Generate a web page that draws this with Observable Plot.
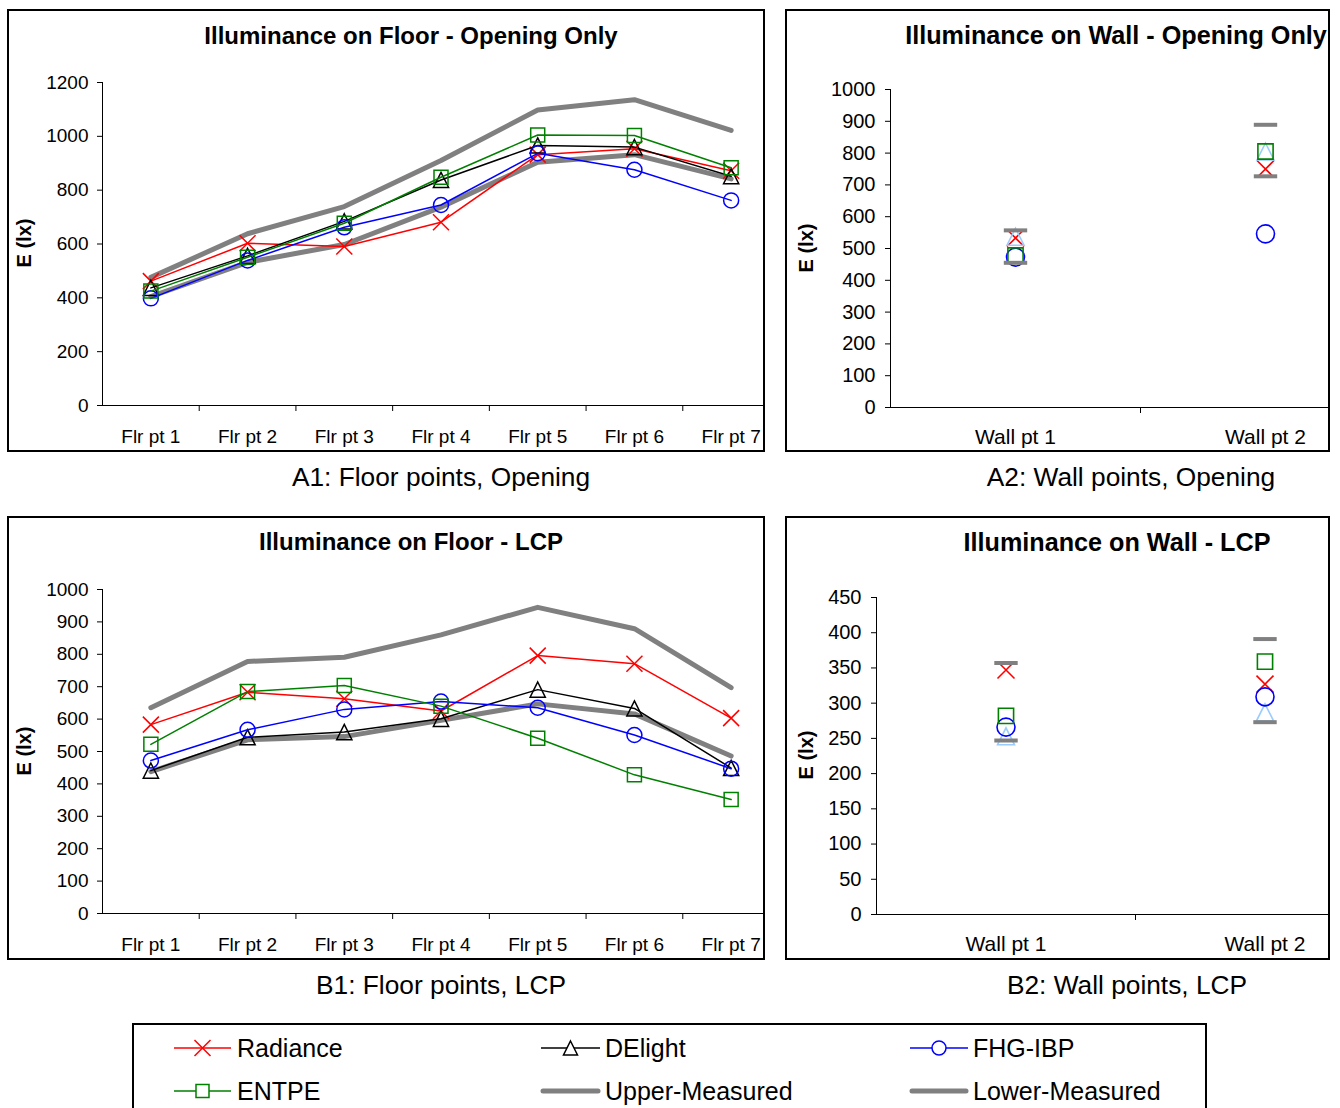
<!DOCTYPE html>
<html><head><meta charset="utf-8">
<script src="https://cdn.jsdelivr.net/npm/d3@7"></script>
<script src="https://cdn.jsdelivr.net/npm/@observablehq/plot@0.6"></script>
<style>
body{margin:0;background:#fff;font-family:"Liberation Sans",Arial,sans-serif;color:#000;}
#page{position:relative;width:1340px;height:1108px;overflow:hidden;background:#fff;}
.frame{position:absolute;border:2px solid #000;box-sizing:border-box;overflow:hidden;background:#fff;}
.frame svg{position:absolute;left:-2px;top:-2px;overflow:visible;max-width:none !important;height:auto;}
.title{position:absolute;font-weight:bold;font-size:24px;white-space:nowrap;transform:translate(-50%,-50%);}
.ylab{position:absolute;font-weight:bold;font-size:20px;white-space:nowrap;transform:translate(-50%,-50%) rotate(-90deg);}
.caption{position:absolute;font-size:26.3px;white-space:nowrap;transform:translate(-50%,-50%);}
.legtext{position:absolute;font-size:25px;white-space:nowrap;transform:translateY(-50%);}
</style></head>
<body><div id="page"></div>
<script>
// ---------------- DATA ----------------
const floorCats = ["Flr pt 1","Flr pt 2","Flr pt 3","Flr pt 4","Flr pt 5","Flr pt 6","Flr pt 7"];
const wallCats = ["Wall pt 1","Wall pt 2"];
const seriesNames = ["Radiance","DElight","FHG-IBP","ENTPE","Upper-Measured","Lower-Measured"];

// A1: Floor points, Opening
const radianceA1 = [462, 603, 591, 681, 932, 954, 872];
const delightA1  = [437, 556, 684, 838, 966, 960, 852];
const fhgA1      = [398, 539, 662, 745, 937, 876, 762];
const entpeA1    = [425, 551, 677, 848, 1005, 1003, 883];
const upperA1    = [476, 638, 739, 910, 1098, 1136, 1022];
const lowerA1    = [405, 532, 598, 737, 904, 932, 842];

// A2: Wall points, Opening
const radianceA2 = [533, 750];
const delightA2  = [537, 805];
const fhgA2      = [473, 546];
const entpeA2    = [478, 805];
const upperA2    = [557, 889];
const lowerA2    = [455, 727];

// B1: Floor points, LCP
const radianceB1 = [583, 683, 663, 625, 796, 771, 603];
const delightB1  = [441, 544, 560, 601, 691, 633, 449];
const fhgB1      = [472, 567, 630, 654, 635, 551, 447];
const entpeB1    = [522, 685, 704, 640, 541, 428, 352];
const upperB1    = [635, 778, 791, 860, 945, 879, 697];
const lowerB1    = [438, 536, 546, 596, 647, 616, 486];

// B2: Wall points, LCP
const radianceB2 = [347, 327];
const delightB2  = [253, 287];
const fhgB2      = [266, 309];
const entpeB2    = [282, 359];
const upperB2    = [357, 391];
const lowerB2    = [247, 273];

// ---------------- SYMBOLS ----------------
const rad = s => Math.sqrt(s / Math.PI);
const symX = {draw(c, s){const r = rad(s); c.moveTo(-r,-r); c.lineTo(r,r); c.moveTo(r,-r); c.lineTo(-r,r);}};
const symTri = {draw(c, s){const r = rad(s); c.moveTo(0,-r); c.lineTo(r,r); c.lineTo(-r,r); c.closePath();}};
const symSq = {draw(c, s){const r = rad(s); c.rect(-r,-r,2*r,2*r);}};
const symCirc = {draw(c, s){const r = rad(s); c.moveTo(r,0); c.arc(0,0,r,0,2*Math.PI);}};
const symDash = {draw(c, s){const r = rad(s); c.moveTo(-r,0); c.lineTo(r,0);}};

const page = document.getElementById("page");
const FONT = "Liberation Sans, Arial, sans-serif";

function addDiv(cls, text, x, y, size){
  const d = document.createElement("div");
  d.className = cls; d.textContent = text;
  d.style.left = x + "px"; d.style.top = y + "px";
  if (size) d.style.fontSize = size + "px";
  page.appendChild(d); return d;
}

function chart(cfg){
  const {frame, plot, cats, yMax, yStep, series, wall} = cfg;
  const n = cats.length;
  const xDomain = [0.5, n + 0.5];
  const fr = document.createElement("div");
  fr.className = "frame";
  Object.assign(fr.style, {left: frame.x+"px", top: frame.y+"px", width: frame.w+"px", height: frame.h+"px"});
  page.appendChild(fr);

  const yFont = wall ? 20 : 19;
  const xFont = wall ? 21 : 19;
  const marks = [];
  marks.push(Plot.ruleY([0], {stroke: "#000", strokeWidth: 1}));
  marks.push(Plot.ruleX([xDomain[0]], {stroke: "#000", strokeWidth: 1}));
  marks.push(Plot.axisY({ticks: d3.range(0, yMax + yStep/2, yStep), tickFormat: d => String(d), tickSize: 5, tickPadding: wall ? 10 : 9, fontSize: yFont, label: null, stroke: "#000"}));
  marks.push(Plot.axisX({ticks: d3.range(1, n + 1), tickFormat: i => cats[i-1], tickSize: 0, tickPadding: wall ? 22 : 24, fontSize: xFont, label: null}));
  marks.push(Plot.axisX({ticks: d3.range(1.5, n, 1), tickFormat: () => "", tickSize: 6, label: null, stroke: "#000"}));

  const rowsOf = s => s.values.map((v, i) => ({series: s.name, x: i + 1, y: v}));
  if (!wall) {
    series.filter(s => s.measured).forEach(s => {
      marks.push(Plot.line(rowsOf(s), {x: "x", y: "y", stroke: s.color, strokeWidth: 5, strokeLinejoin: "round", strokeLinecap: "round"}));
    });
    series.filter(s => !s.measured).forEach(s => {
      const rows = rowsOf(s);
      marks.push(Plot.line(rows, {x: "x", y: "y", stroke: s.color, strokeWidth: 1.5}));
      marks.push(Plot.dot(rows, {x: "x", y: "y", symbol: s.symbol, r: s.r, stroke: s.color, strokeWidth: 1.5, fill: "none"}));
    });
  } else {
    series.forEach(s => {
      const rows = rowsOf(s);
      marks.push(Plot.dot(rows, {x: "x", y: "y", symbol: s.symbol, r: s.r, stroke: s.color, strokeWidth: s.measured ? 4 : 1.6, fill: "none"}));
    });
  }

  const width = plot.right - frame.x + 5;
  const svg = Plot.plot({
    width, height: frame.h,
    marginLeft: plot.left - frame.x,
    marginRight: 5,
    marginTop: plot.top - frame.y,
    marginBottom: frame.y + frame.h - plot.bottom,
    x: {domain: xDomain},
    y: {domain: [0, yMax]},
    style: {fontFamily: FONT, fontSize: "19px", color: "#000", background: "transparent", overflow: "visible", maxWidth: "none"},
    marks
  });
  svg.style.maxWidth = "none";
  svg.style.width = width + "px";
  svg.style.height = frame.h + "px";
  fr.appendChild(svg);

  addDiv("title", cfg.title, cfg.titlePos[0], cfg.titlePos[1], wall ? 25.2 : 24);
  addDiv("ylab", "E (lx)", cfg.ylabPos[0], cfg.ylabPos[1]);
  addDiv("caption", cfg.caption, cfg.captionPos[0], cfg.captionPos[1]);
}

function floorSeries(r, d, f, e, u, l){
  return [
    {name: "Upper-Measured", values: u, color: "#808080", measured: true},
    {name: "Lower-Measured", values: l, color: "#808080", measured: true},
    {name: "Radiance", values: r, color: "#FF0000", symbol: symX, r: 8},
    {name: "DElight", values: d, color: "#000000", symbol: symTri, r: 7.6},
    {name: "FHG-IBP", values: f, color: "#0000FF", symbol: symCirc, r: 7.5},
    {name: "ENTPE", values: e, color: "#008000", symbol: symSq, r: 7}
  ];
}
function wallSeries(r, d, f, e, u, l){
  return [
    {name: "Radiance", values: r, color: "#FF0000", symbol: symX, r: 8.5},
    {name: "DElight", values: d, color: "#99CCFF", symbol: symTri, r: 8.5},
    {name: "FHG-IBP", values: f, color: "#0000FF", symbol: symCirc, r: 9},
    {name: "ENTPE", values: e, color: "#008000", symbol: symSq, r: 7.6},
    {name: "Upper-Measured", values: u, color: "#808080", symbol: symDash, r: 11.7, measured: true},
    {name: "Lower-Measured", values: l, color: "#808080", symbol: symDash, r: 11.7, measured: true}
  ];
}

chart({frame: {x: 7, y: 9, w: 758, h: 443}, plot: {left: 102, right: 779, top: 82, bottom: 405},
  cats: floorCats, yMax: 1200, yStep: 200, series: floorSeries(radianceA1, delightA1, fhgA1, entpeA1, upperA1, lowerA1),
  title: "Illuminance on Floor - Opening Only", titlePos: [411, 36], ylabPos: [24, 243],
  caption: "A1: Floor points, Opening", captionPos: [441, 477]});

chart({frame: {x: 785, y: 9, w: 545, h: 443}, plot: {left: 890, right: 1390, top: 89, bottom: 407},
  cats: wallCats, yMax: 1000, yStep: 100, series: wallSeries(radianceA2, delightA2, fhgA2, entpeA2, upperA2, lowerA2), wall: true,
  title: "Illuminance on Wall - Opening Only", titlePos: [1116, 35], ylabPos: [806, 248],
  caption: "A2: Wall points, Opening", captionPos: [1131, 477]});

chart({frame: {x: 7, y: 516, w: 758, h: 444}, plot: {left: 102, right: 779, top: 589, bottom: 913},
  cats: floorCats, yMax: 1000, yStep: 100, series: floorSeries(radianceB1, delightB1, fhgB1, entpeB1, upperB1, lowerB1),
  title: "Illuminance on Floor - LCP", titlePos: [411, 542], ylabPos: [24, 751],
  caption: "B1: Floor points, LCP", captionPos: [441, 985]});

chart({frame: {x: 785, y: 516, w: 545, h: 444}, plot: {left: 876, right: 1394, top: 597, bottom: 914},
  cats: wallCats, yMax: 450, yStep: 50, series: wallSeries(radianceB2, delightB2, fhgB2, entpeB2, upperB2, lowerB2), wall: true,
  title: "Illuminance on Wall - LCP", titlePos: [1117, 542], ylabPos: [806, 755],
  caption: "B2: Wall points, LCP", captionPos: [1127, 985]});

// ---------------- LEGEND ----------------
(function legend(){
  const box = document.createElement("div");
  box.className = "frame";
  Object.assign(box.style, {left: "132px", top: "1023px", width: "1075px", height: "110px"});
  page.appendChild(box);
  const ns = "http://www.w3.org/2000/svg";
  const svg = document.createElementNS(ns, "svg");
  svg.setAttribute("width", 1340); svg.setAttribute("height", 1108);
  Object.assign(svg.style, {position: "absolute", left: "0px", top: "0px"});
  page.appendChild(svg);
  const items = [
    {name: "Radiance", color: "#FF0000", sym: symX, r: 8, x0: 174, x1: 231, y: 1048, tx: 237},
    {name: "DElight", color: "#000000", sym: symTri, r: 7, x0: 541, x1: 600, y: 1048, tx: 605},
    {name: "FHG-IBP", color: "#0000FF", sym: symCirc, r: 7, x0: 910, x1: 968, y: 1048, tx: 973},
    {name: "ENTPE", color: "#008000", sym: symSq, r: 6.5, x0: 174, x1: 231, y: 1091, tx: 237},
    {name: "Upper-Measured", color: "#808080", x0: 543, x1: 598, y: 1091, tx: 605, thick: true},
    {name: "Lower-Measured", color: "#808080", x0: 912, x1: 966, y: 1091, tx: 973, thick: true}
  ];
  items.forEach(it => {
    const ln = document.createElementNS(ns, "line");
    ln.setAttribute("x1", it.x0); ln.setAttribute("x2", it.x1);
    ln.setAttribute("y1", it.y); ln.setAttribute("y2", it.y);
    ln.setAttribute("stroke", it.color);
    ln.setAttribute("stroke-width", it.thick ? 5 : 1.5);
    if (it.thick) ln.setAttribute("stroke-linecap", "round");
    svg.appendChild(ln);
    if (it.sym) {
      const p = d3.path();
      it.sym.draw(p, Math.PI * it.r * it.r);
      const pe = document.createElementNS(ns, "path");
      pe.setAttribute("d", p.toString());
      pe.setAttribute("fill", "#fff");
      pe.setAttribute("stroke", it.color);
      pe.setAttribute("stroke-width", 1.5);
      pe.setAttribute("transform", `translate(${(it.x0 + it.x1) / 2},${it.y})`);
      svg.appendChild(pe);
    }
    addDiv("legtext", it.name, it.tx, it.y);
  });
})();
</script>
</body></html>
